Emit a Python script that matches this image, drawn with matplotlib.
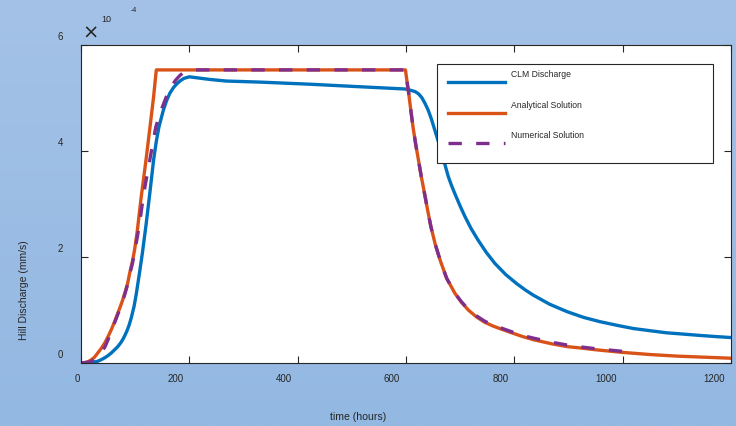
import numpy as np
import matplotlib
matplotlib.use('Agg')
import matplotlib.pyplot as plt
from matplotlib.colors import LinearSegmentedColormap
from matplotlib.patches import Rectangle
from matplotlib.transforms import ScaledTranslation

plt.rcParams['font.family'] = ['Liberation Sans', 'DejaVu Sans']

# discharge in units of 1e-4 mm/s, time in hours
clm_t = [0, 10, 19, 30, 37, 44, 50, 56, 62, 68, 74, 78, 81, 85, 89, 93, 98, 102,
         108, 113, 120, 127, 134, 139, 144, 152, 158, 164, 171, 178, 184, 190,
         200, 215, 238, 268, 330, 423, 500, 598, 607, 617, 623, 629, 635, 641,
         647, 653, 660, 666, 672, 678, 684, 690, 700, 709, 720, 733, 748, 764,
         784, 804, 820, 835, 865, 897, 928, 958, 990, 1020, 1050, 1081, 1112,
         1143, 1170, 1200]
clm_q = [0, 0.0, 0.01, 0.03, 0.06, 0.10, 0.14, 0.19, 0.25, 0.31, 0.39, 0.46,
         0.52, 0.61, 0.72, 0.86, 1.07, 1.30, 1.70, 2.05, 2.60, 3.20, 3.83, 4.18,
         4.46, 4.77, 4.95, 5.09, 5.20, 5.28, 5.33, 5.37, 5.40, 5.38, 5.35, 5.32,
         5.30, 5.26, 5.22, 5.17, 5.15, 5.12, 5.08, 5.01, 4.90, 4.77, 4.60, 4.40,
         4.17, 3.96, 3.74, 3.52, 3.35, 3.20, 2.96, 2.76, 2.54, 2.32, 2.09, 1.88,
         1.67, 1.50, 1.38, 1.28, 1.11, 0.97, 0.86, 0.78, 0.71, 0.65, 0.61, 0.57,
         0.545, 0.52, 0.50, 0.48]

ana_t = [0, 8, 14, 19, 25, 31, 37, 44, 50, 56, 62, 68, 75, 81, 86, 90, 95, 99,
         104, 111, 120, 127, 134, 139, 599, 602, 605, 609, 613, 618, 623, 628,
         634, 640, 646, 654, 663, 675, 690, 702, 715, 730, 745, 760, 773, 795,
         815, 835, 870, 897, 925, 950, 1000, 1050, 1100, 1150, 1200]
ana_q = [0, 0.01, 0.03, 0.06, 0.11, 0.19, 0.27, 0.38, 0.50, 0.63, 0.78, 0.94,
         1.13, 1.32, 1.50, 1.70, 1.92, 2.14, 2.50, 3.12, 3.83, 4.42, 5.02, 5.53,
         5.53, 5.30, 5.09, 4.76, 4.45, 4.12, 3.83, 3.53, 3.21, 2.88, 2.57, 2.24,
         1.94, 1.60, 1.32, 1.15, 1.00, 0.87, 0.77, 0.70, 0.65, 0.57, 0.50, 0.44,
         0.36, 0.31, 0.28, 0.25, 0.20, 0.16, 0.13, 0.11, 0.09]

num_t = [0, 10, 19, 25, 31, 37, 44, 50, 56, 62, 68, 75, 81, 86, 90, 95, 99, 104,
         108, 116, 127, 138, 148, 160, 168, 175, 182, 188, 200, 212, 599, 602,
         605, 609, 613, 618, 623, 628, 634, 640, 646, 654, 663, 675, 690, 702,
         715, 730, 745, 760, 773, 795, 815, 835, 870, 897, 925, 950, 1000]
num_q = [0, 0.01, 0.03, 0.07, 0.12, 0.20, 0.30, 0.44, 0.60, 0.76, 0.92, 1.11,
         1.30, 1.48, 1.68, 1.88, 2.10, 2.38, 2.62, 3.21, 3.83, 4.45, 4.77, 5.09,
         5.24, 5.34, 5.42, 5.47, 5.51, 5.53, 5.53, 5.30, 5.09, 4.76, 4.45, 4.12,
         3.83, 3.53, 3.21, 2.88, 2.57, 2.24, 1.94, 1.60, 1.32, 1.16, 1.01, 0.89,
         0.79, 0.72, 0.67, 0.59, 0.52, 0.47, 0.39, 0.34, 0.30, 0.27, 0.22]

x_ticks = [0, 200, 400, 600, 800, 1000, 1200]
y_ticks = [0, 2, 4, 6]
labels = ['CLM Discharge', 'Analytical Solution', 'Numerical Solution']

ink = '#262626'
fig = plt.figure(figsize=(7.36, 4.26), dpi=100)

# light blue backdrop, a bit darker toward the bottom
bg = fig.add_axes([0, 0, 1, 1], zorder=-10)
cmap = LinearSegmentedColormap.from_list('bg', ['#a4c2e7', '#93b8e2'])
bg.imshow(np.linspace(0, 1, 256).reshape(-1, 1), aspect='auto', cmap=cmap,
          extent=[0, 1, 0, 1], origin='upper')
bg.axis('off')

ax = fig.add_axes([81 / 736, 63 / 426, 650 / 736, 318 / 426])
ax.set_facecolor('white')
ax.plot(clm_t, clm_q, color='#0072BD', lw=2.4, label=labels[0])
ax.plot(ana_t, ana_q, color='#D95319', lw=2.4, label=labels[1])
ax.plot(num_t, num_q, color='#7E2F8E', lw=2.4, dashes=(4, 4.3), label=labels[2])

ax.set_xlim(0, 1200)
ax.set_ylim(0, 6)
ax.set_xticks(x_ticks)
ax.set_yticks(y_ticks)
ax.tick_params(direction='in', length=4.8, width=0.8, color=ink, top=True,
               right=True, labelsize=7, labelcolor=ink)
ax.tick_params(axis='x', pad=8)
ax.tick_params(axis='y', pad=13)
for sp in ax.spines.values():
    sp.set_color(ink)
    sp.set_linewidth(0.8)

# tick labels sit a little off their ticks, like the original export
for i, lab in enumerate(ax.get_xticklabels()):
    dx = -1 if i == 0 else -6
    lab.set_ha('right')
    lab.set_transform(lab.get_transform() + ScaledTranslation(dx / 100, 0, fig.dpi_scale_trans))
for lab in ax.get_yticklabels():
    lab.set_transform(lab.get_transform() + ScaledTranslation(0, 9 / 100, fig.dpi_scale_trans))

ax.set_xlabel('time (hours)', fontsize=7.6, color=ink)
ax.xaxis.set_label_coords((358 - 81) / 650, (363 - 417) / 318)
ax.xaxis.label.set_va('center')
ax.set_ylabel('Hill Discharge (mm/s)', fontsize=7.5, color=ink)
ax.yaxis.set_label_coords((24 - 81) / 650, (363 - 290) / 318)
ax.yaxis.label.set_va('center')

# exponent marker
fig.text(91 / 736, 1 - 33 / 426, '×', fontsize=14, ha='center', va='center',
         color=ink, family='DejaVu Sans')
fig.text(106.5 / 736, 1 - 20 / 426, '10', fontsize=6.5, ha='center', va='center', color=ink)
fig.text(134 / 736, 1 - 11 / 426, '-4', fontsize=5, ha='center', va='center', color=ink)

# legend: wide white box with the entries in its left part
box = Rectangle((0.548, 0.629), 0.424, 0.311, transform=ax.transAxes,
                facecolor='white', edgecolor=ink, lw=0.8, zorder=4.5)
ax.add_patch(box)
leg = ax.legend(loc='upper left', bbox_to_anchor=(0.5646, 0.895), frameon=False,
                fontsize=6.2, handlelength=6.6, handletextpad=0.7,
                labelspacing=2.46, borderpad=0, borderaxespad=0)
for t in leg.get_texts():
    t.set_color(ink)
    t.set_position((0, 8))

fig.savefig('out.png', dpi=100)
